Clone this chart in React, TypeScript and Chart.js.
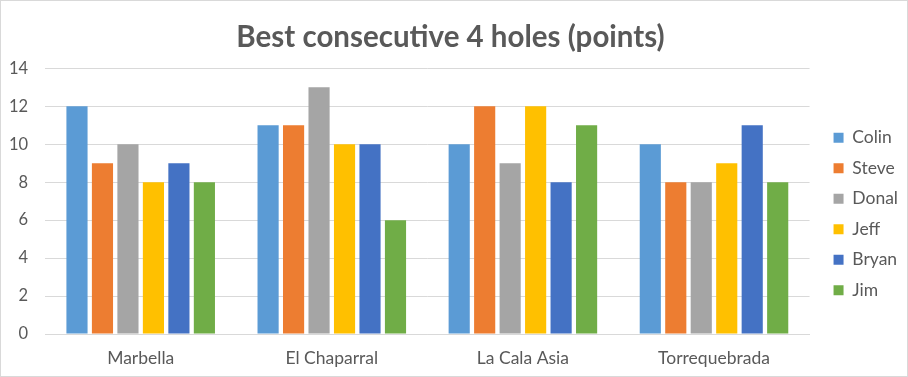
import React, { useEffect, useRef } from "react";
import { Chart, registerables } from "chart.js";

Chart.register(...registerables);

const categories = ["Marbella", "El Chaparral", "La Cala Asia", "Torrequebrada"];
const seriesNames = ["Colin", "Steve", "Donal", "Jeff", "Bryan", "Jim"];
const colin = [12, 11, 10, 10];
const steve = [9, 11, 12, 8];
const donal = [10, 13, 9, 8];
const jeff = [8, 10, 12, 9];
const bryan = [9, 10, 8, 11];
const jim = [8, 6, 11, 8];
const seriesColors = ["#5B9BD5", "#ED7D31", "#A5A5A5", "#FFC000", "#4472C4", "#70AD47"];
const yTicks = [0, 2, 4, 6, 8, 10, 12, 14];

const FONT = "Lato, 'Open Sans', sans-serif";

const legendShift = {
  id: "legendShift",
  afterLayout(chart: any) {
    const lg = chart.legend;
    if (lg) {
      lg.top += 16;
      lg.bottom += 16;
      lg.left += 11;
      lg.right += 11;
    }
    const tb = chart.titleBlock;
    if (tb) {
      tb.left += 6;
      tb.right += 6;
    }
  },
};

export default function App() {
  const ref = useRef<HTMLCanvasElement>(null);
  useEffect(() => {
    document.body.style.margin = "0";
    const values = [colin, steve, donal, jeff, bryan, jim];
    const chart = new Chart(ref.current!, {
      type: "bar",
      data: {
        labels: categories,
        datasets: seriesNames.map((n, i) => ({
          label: n,
          data: values[i],
          backgroundColor: seriesColors[i],
          borderWidth: 0,
          categoryPercentage: 0.8,
          barPercentage: 0.83,
        })),
      },
      plugins: [legendShift],
      options: {
        animation: false,
        responsive: false,
        maintainAspectRatio: false,
        layout: { padding: { left: -9, right: 10, top: 12, bottom: -7 } },
        plugins: {
          title: {
            display: true,
            text: "Best consecutive 4 holes (points)",
            color: "#595959",
            font: { family: FONT, size: 29.5, weight: "bold" },
            padding: { top: 7, bottom: 13 },
          },
          legend: {
            position: "right",
            labels: {
              boxWidth: 10,
              boxHeight: 10,
              padding: 13,
              color: "#595959",
              font: { family: FONT, size: 17.5 },
            },
          },
          tooltip: { enabled: false },
        },
        scales: {
          x: {
            grid: { display: false, drawTicks: false },
            border: { color: "#d9d9d9" },
            ticks: {
              color: "#595959",
              font: { family: FONT, size: 17.5 },
              padding: 14,
            },
          },
          y: {
            min: 0,
            max: 14,
            afterBuildTicks: (axis: any) => {
              axis.ticks = yTicks.map((v) => ({ value: v }));
            },
            grid: { color: "#d9d9d9", drawTicks: false },
            border: { display: false },
            ticks: {
              color: "#595959",
              font: { family: FONT, size: 16.5 },
              padding: 17,
            },
          },
        },
      },
    });
    return () => chart.destroy();
  }, []);
  return (
    <div
      style={{
        position: "fixed",
        left: 0,
        top: 0,
        width: 908,
        height: 377,
        boxSizing: "border-box",
        border: "1px solid #d9d9d9",
        background: "#fff",
      }}
    >
      <canvas ref={ref} width={906} height={375} style={{ display: "block" }} />
    </div>
  );
}
